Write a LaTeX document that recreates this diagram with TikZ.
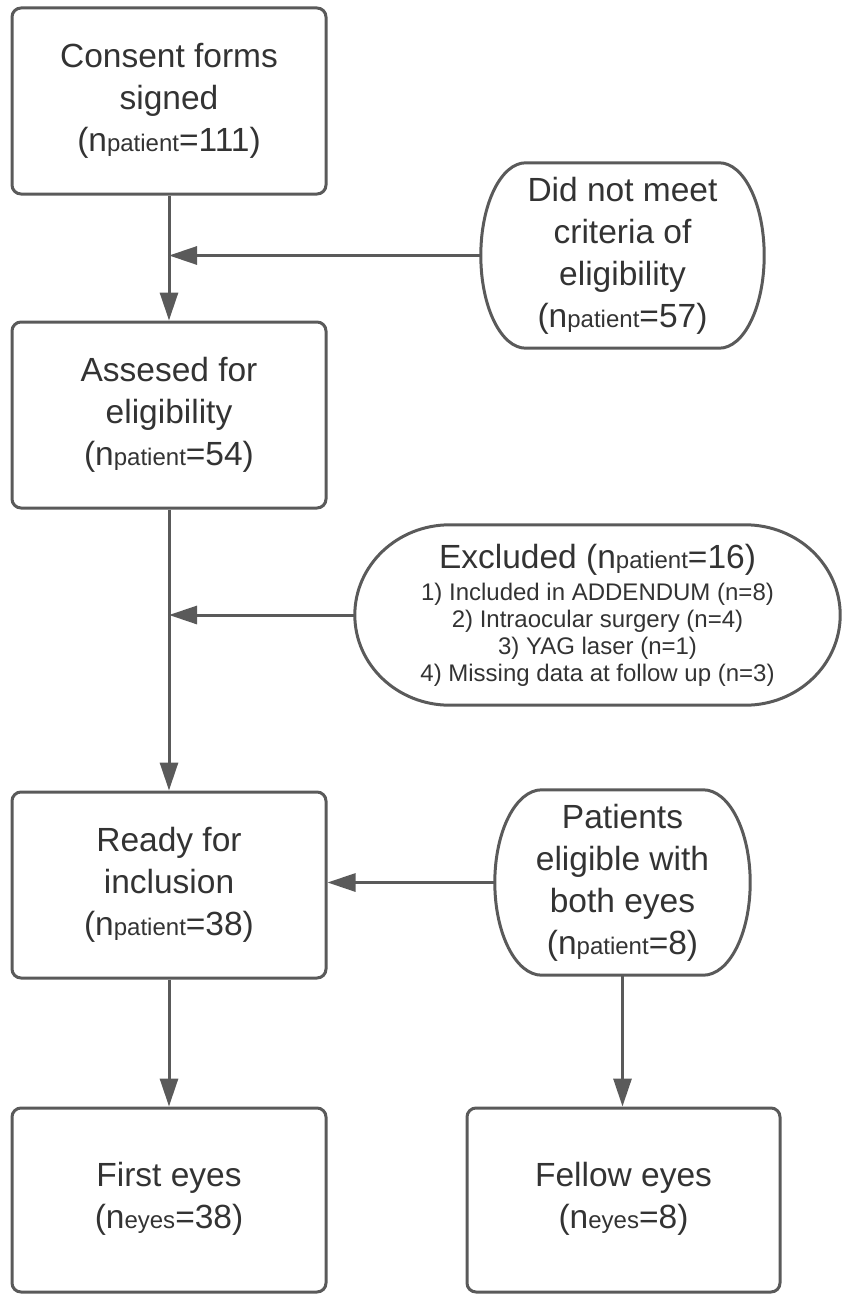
\documentclass[tikz,border=0pt]{standalone}
\usepackage{fontspec}
\setmainfont{Liberation Sans}
\usetikzlibrary{arrows.meta,calc}
\definecolor{linegray}{HTML}{5A5A5A}
\definecolor{textgray}{HTML}{333333}
\newcommand\sbt[1]{{\fontsize{24}{24}\selectfont #1}}
\newcommand\drawoval[2]{%
  \draw[ovalline] let \p1=(#1.north west), \p2=(#1.south east) in
    (\x1+#2,\y1) -- (\x2-#2,\y1)
    arc[start angle=90,end angle=-90,x radius=#2,y radius={(\y1-\y2)/2}]
    -- (\x1+#2,\y2)
    arc[start angle=270,end angle=90,x radius=#2,y radius={(\y1-\y2)/2}]
    -- cycle;}
\begin{document}
\begin{tikzpicture}[x=1pt,y=-1pt,
  box/.style={draw=linegray, line width=3pt, rounded corners=9pt,
    minimum width=314pt, minimum height=186pt, inner sep=0pt,
    align=center, text=textgray, font=\fontsize{33.5}{42}\selectfont},
  ovalnode/.style={draw=none, inner sep=0pt, align=center, text=textgray,
    font=\fontsize{33.5}{42}\selectfont},
  ovalline/.style={draw=linegray, line width=3pt},
  conn/.style={draw=linegray, line width=3pt,
    -{Triangle[length=28pt,width=18pt]}},
]
\useasboundingbox (0,0) rectangle (851,1295);

\node[box] (consent) at (169,101) {Consent forms\\signed\\(n\sbt{patient}=111)};
\node[box] (assessed) at (169,415) {Assesed for\\eligibility\\(n\sbt{patient}=54)};
\node[box] (ready) at (169,885) {Ready for\\inclusion\\(n\sbt{patient}=38)};
\node[box, minimum height=184pt] (first) at (169,1200)
  {First eyes\\(n\sbt{eyes}=38)\\[-32pt]\mbox{}};
\node[box, minimum width=313pt, minimum height=184pt] (fellow) at (623.5,1200)
  {Fellow eyes\\(n\sbt{eyes}=8)\\[-32pt]\mbox{}};

\node[ovalnode, minimum width=283pt, minimum height=185pt] (notmeet) at (622.5,255.5)
  {Did not meet\\criteria of\\eligibility\\(n\sbt{patient}=57)};
\node[ovalnode, minimum width=485pt, minimum height=180pt,
  font=\fontsize{24}{26.7}\selectfont] (excluded) at (597.5,615)
  {{\fontsize{33.5}{42}\selectfont Excluded (n\sbt{patient}=16)}\\[6pt]
   1) Included in ADDENDUM (n=8)\\2) Intraocular surgery (n=4)\\
   3) YAG laser (n=1)\\4) Missing data at follow up (n=3)};
\node[ovalnode, minimum width=255pt, minimum height=185pt] (botheyes) at (622.5,882.5)
  {Patients\\eligible with\\both eyes\\(n\sbt{patient}=8)};

\drawoval{notmeet}{45pt}
\drawoval{excluded}{95pt}
\drawoval{botheyes}{47pt}

\coordinate (j1) at (consent.south |- notmeet.west);
\coordinate (j2) at (assessed.south |- excluded.west);

\draw[conn] (consent) -- (assessed);
\draw[conn] (notmeet.west) -- (j1);
\draw[conn] (assessed) -- (ready);
\draw[conn] (excluded.west) -- (j2);
\draw[conn] (botheyes.west) -- (botheyes.west -| ready.east);
\draw[conn] (ready) -- (first);
\draw[conn] (botheyes.south) -- (botheyes.south |- fellow.north);
\end{tikzpicture}
\end{document}
